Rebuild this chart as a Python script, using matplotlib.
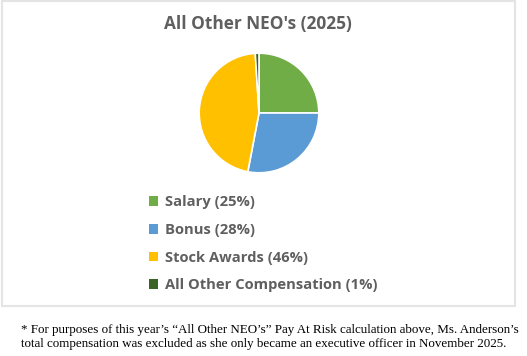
import matplotlib.pyplot as plt
from matplotlib.patches import Rectangle, Patch

labels = ['Salary (25%)', 'Bonus (28%)', 'Stock Awards (46%)', 'All Other Compensation (1%)']
values = [25, 28, 46, 1]
colors = ['#70AD47', '#5B9BD5', '#FFC000', '#3B6323']
title = "All Other NEO's (2025)"
footnote = ("* For purposes of this year\u2019s \u201cAll Other NEO\u2019s\u201d Pay At Risk calculation above, Ms. Anderson\u2019s\n"
            "total compensation was excluded as she only became an executive officer in November 2025.")

W, H = 527, 356
fig = plt.figure(figsize=(W / 100, H / 100), dpi=100)

def fx(px):
    return px / W

def fy(py):
    return 1 - py / H

# chart frame
fig.patches.append(Rectangle((fx(2), fy(306)), fx(513), 305 / H, transform=fig.transFigure,
                             fill=False, edgecolor='#e4e4e4', linewidth=1.5))

# pie
cx, cy, r = 259, 113, 61
ax = fig.add_axes([fx(cx - r), fy(cy + r), 2 * r / W, 2 * r / H])
ax.pie(values, colors=colors, startangle=90, counterclock=False,
       wedgeprops=dict(edgecolor='white', linewidth=1.2))
ax.set_xlim(-1.02, 1.02)
ax.set_ylim(-1.02, 1.02)

fig.text(fx(258), fy(24), title, ha='center', va='center', fontsize=12.4,
         fontweight='bold', color='#5f5f5f', family='Open Sans')

handles = [Patch(facecolor=c, edgecolor='none') for c in colors]
fig.legend(handles, labels, loc='upper left', bbox_to_anchor=(fx(136), fy(182)),
           frameon=False, handlelength=0.62, handleheight=0.62, handletextpad=0.45,
           labelspacing=0.93, prop=dict(family='Open Sans', weight='bold', size=10.6),
           labelcolor='#5f5f5f')

fig.text(fx(21), fy(337), footnote, ha='left', va='center', fontsize=9.4,
         family='Liberation Serif', color='black', linespacing=1.3)

fig.savefig('out.png', dpi=100)
